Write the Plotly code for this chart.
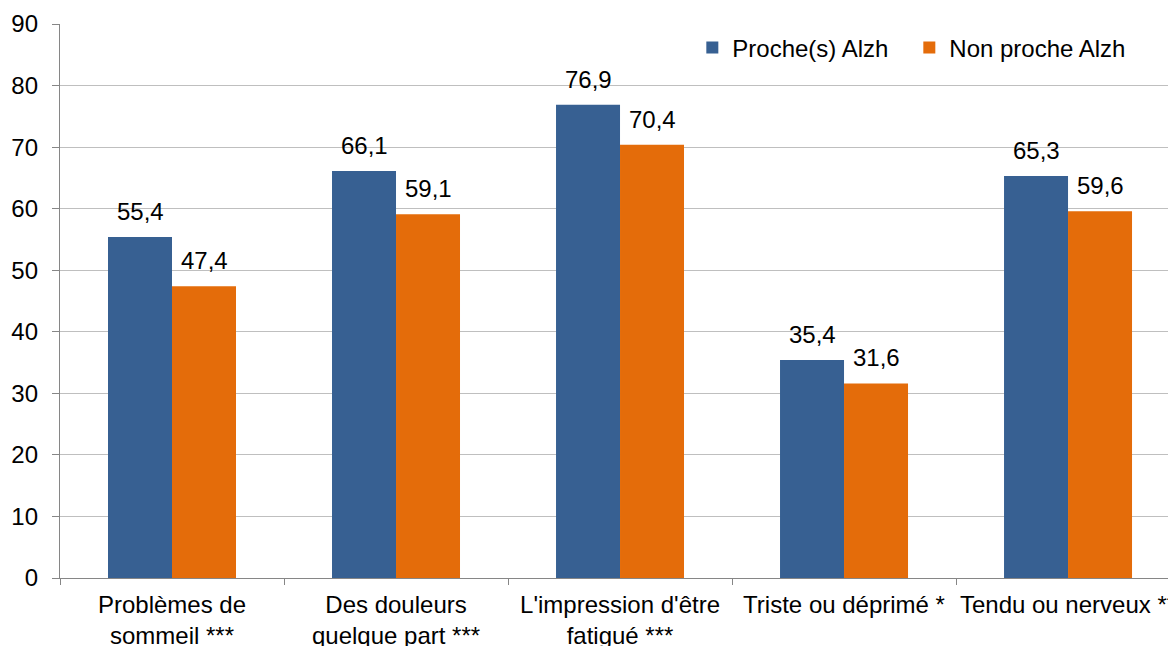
import plotly.graph_objects as go

categories = [
    "Problèmes de<br>sommeil ***",
    "Des douleurs<br>quelque part ***",
    "L'impression d'être<br>fatigué ***",
    "Triste ou déprimé *",
    "Tendu ou nerveux **",
]
proche = [55.4, 66.1, 76.9, 35.4, 65.3]
non_proche = [47.4, 59.1, 70.4, 31.6, 59.6]
series_names = ["Proche(s) Alzh", "Non proche Alzh"]
y_ticks = [0, 10, 20, 30, 40, 50, 60, 70, 80, 90]

FONT = "Liberation Sans, Arial, sans-serif"
FS = 24

def fmt(v):
    return f"{v:.1f}".replace(".", ",")

fig = go.Figure()
series = [
    (series_names[0], proche, "#376092", -32),
    (series_names[1], non_proche, "#E46C0A", 32),
]
for name, vals, color, dx in series:
    fig.add_trace(go.Bar(
        x=categories, y=vals, name=name,
        marker=dict(color=color, line=dict(width=0)),
    ))
    for c, v in zip(categories, vals):
        fig.add_annotation(
            x=c, y=v, text=fmt(v), showarrow=False,
            xanchor="center", yanchor="bottom", xshift=dx, yshift=10,
            font=dict(family=FONT, size=FS, color="#000000"),
        )

fig.update_layout(
    width=1168, height=638,
    margin=dict(l=52, r=0, t=16, b=68, autoexpand=False),
    paper_bgcolor="white", plot_bgcolor="white",
    barmode="group", bargap=0.4286, bargroupgap=0,
    font=dict(family=FONT, size=FS, color="#000000"),
    showlegend=True,
    legend=dict(
        orientation="h", x=0.5666, y=0.957, xanchor="left", yanchor="middle",
        font=dict(family=FONT, size=FS, color="#000000"),
        bgcolor="rgba(0,0,0,0)", itemwidth=30, tracegroupgap=0,
        entrywidth=172, entrywidthmode="pixels",
    ),
)
fig.update_xaxes(
    range=[-0.5, 4.482], showgrid=False, automargin=False,
    showline=True, linecolor="#868686", linewidth=1.3,
    ticks="outside", tickson="boundaries", ticklen=6, tickcolor="#868686",
    tickangle=0, ticklabelstandoff=5,
    tickfont=dict(family=FONT, size=FS, color="#000000"),
)
fig.update_yaxes(
    range=[0, 90], tickvals=y_ticks, showgrid=True, gridcolor="#BFBFBF", gridwidth=1,
    showline=True, linecolor="#868686", linewidth=1.3, automargin=False,
    ticks="outside", ticklen=7, tickcolor="#868686", ticklabelstandoff=9,
    tickfont=dict(family=FONT, size=FS, color="#000000"),
    zeroline=False,
)

fig.write_html("out.html")
